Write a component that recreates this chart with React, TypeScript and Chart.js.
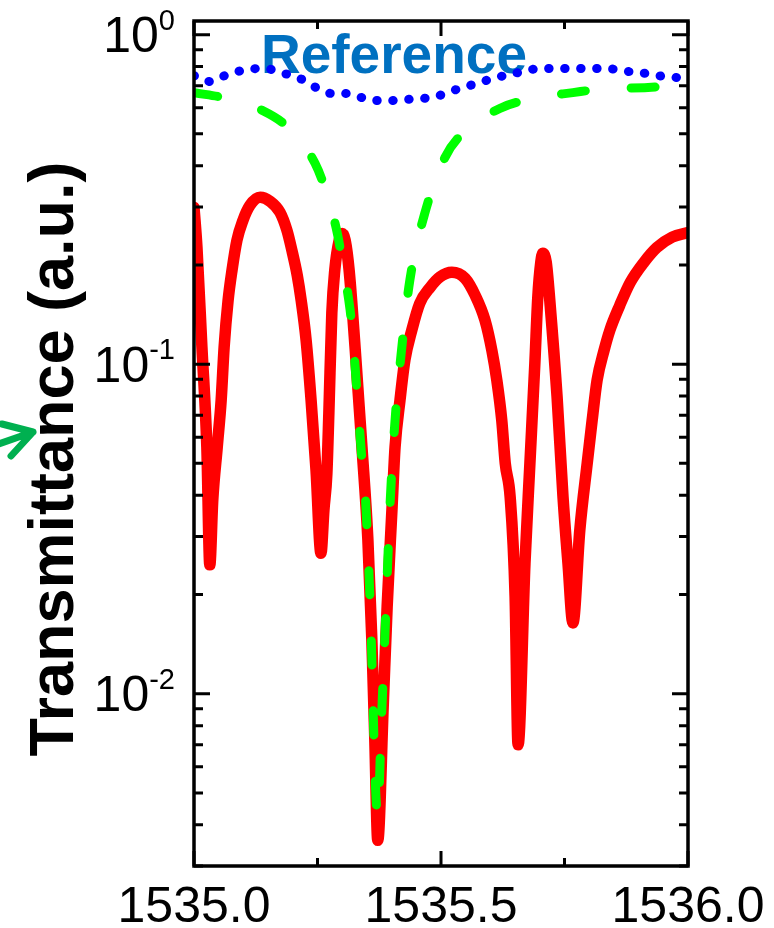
import React, { useEffect, useRef } from "react";
import { Chart, registerables } from "chart.js";

Chart.register(...registerables);

// Measured transmittance (red)
const measuredX = [
  1535.0, 1535.006, 1535.016, 1535.026, 1535.032,
  1535.038, 1535.047, 1535.055, 1535.061, 1535.069, 1535.077, 1535.087, 1535.099, 1535.113, 1535.134,
  1535.154, 1535.174, 1535.188, 1535.198, 1535.209, 1535.217, 1535.227, 1535.237, 1535.247, 1535.257,
  1535.263, 1535.269, 1535.273, 1535.279, 1535.285, 1535.294, 1535.3, 1535.306, 1535.314, 1535.326,
  1535.34, 1535.352, 1535.36, 1535.366, 1535.372,
  1535.383, 1535.391, 1535.401, 1535.407, 1535.417, 1535.427, 1535.441, 1535.457, 1535.478, 1535.498,
  1535.522, 1535.549, 1535.569, 1535.589, 1535.603, 1535.613, 1535.623, 1535.63, 1535.64, 1535.65,
  1535.656,
  1535.67, 1535.68, 1535.69, 1535.696, 1535.702, 1535.706, 1535.713, 1535.721, 1535.735, 1535.747,
  1535.757, 1535.767,
  1535.781, 1535.796, 1535.806, 1535.816, 1535.83, 1535.842, 1535.862, 1535.883, 1535.911, 1535.937,
  1535.968, 1536.0,
];
const measuredY = [
  0.299, 0.226, 0.1127, 0.056, 0.0246,
  0.0387, 0.056, 0.0778, 0.1127, 0.156, 0.193, 0.238, 0.273, 0.303, 0.321,
  0.312, 0.289, 0.255, 0.222, 0.186, 0.156, 0.118, 0.0778, 0.0477, 0.0267,
  0.0361, 0.0467, 0.0711, 0.143, 0.193, 0.238, 0.249, 0.238, 0.193, 0.1127,
  0.056, 0.0293, 0.0146, 0.00726, 0.00359,
  0.00914, 0.0184, 0.0369, 0.056, 0.0778, 0.103, 0.127, 0.153, 0.171, 0.184,
  0.19, 0.182, 0.162, 0.136, 0.11, 0.0894, 0.0676, 0.0501, 0.0395, 0.0197,
  0.007,
  0.0249, 0.0501, 0.1007, 0.16, 0.204, 0.217, 0.204, 0.151, 0.0794, 0.0395,
  0.0249, 0.0164,
  0.0314, 0.0501, 0.0676, 0.0894, 0.11, 0.127, 0.151, 0.177, 0.204, 0.226,
  0.243, 0.251,
];

// Fitted dip (green dashed)
const fitX = [
  1535.0, 1535.067, 1535.138, 1535.19, 1535.245, 1535.271, 1535.291, 1535.302, 1535.316, 1535.322,
  1535.34, 1535.346, 1535.352, 1535.358, 1535.362, 1535.366, 1535.372, 1535.379, 1535.385, 1535.391,
  1535.397, 1535.407, 1535.419, 1535.437, 1535.47, 1535.508, 1535.543, 1535.619, 1535.686, 1535.767,
  1535.836, 1535.919, 1536.0,
];
const fitY = [
  0.667, 0.64, 0.589, 0.523, 0.407, 0.321, 0.246, 0.197, 0.146, 0.118,
  0.0512, 0.0415, 0.0277, 0.0162, 0.0098, 0.00589, 0.00424, 0.00805, 0.0132, 0.0226,
  0.0379, 0.0676, 0.1064, 0.18, 0.297, 0.424, 0.501, 0.597, 0.64, 0.667,
  0.686, 0.691, 0.71,
];

// Reference (blue dotted)
const refX = [
  1535.0, 1535.032, 1535.067, 1535.097, 1535.13, 1535.168, 1535.184, 1535.219, 1535.247, 1535.279,
  1535.306, 1535.34, 1535.362, 1535.397, 1535.431, 1535.462, 1535.49, 1535.518, 1535.545, 1535.577,
  1535.605, 1535.636, 1535.666, 1535.698, 1535.727, 1535.755, 1535.791, 1535.828, 1535.858, 1535.893,
  1535.917, 1535.953, 1535.988, 1536.0,
];
const refY = [
  0.751, 0.721, 0.756, 0.778, 0.789, 0.778, 0.762, 0.731, 0.691, 0.663,
  0.663, 0.644, 0.631, 0.631, 0.636, 0.64, 0.649, 0.672, 0.691, 0.715,
  0.736, 0.756, 0.772, 0.789, 0.789, 0.789, 0.789, 0.789, 0.783, 0.767,
  0.762, 0.746, 0.741, 0.741,
];

const xMin = 1535.0;
const xMax = 1536.0;
const yMin = 0.003;
const yMax = 1.1;
const xMajorTicks = [1535.0, 1535.5, 1536.0];
const xTickLabels = ["1535.0", "1535.5", "1536.0"];
const xMinorTicks = [1535.25, 1535.75];
const yMajorTicks = [1, 0.1, 0.01];
const yTickExponents = ["0", "-1", "-2"];
const yDecades = [-3, -2, -1, 0];
const yTitle = "Transmittance (a.u.)";
const annotationText = "Reference";

const FONT = '"Liberation Sans", Arial, Helvetica, sans-serif';

const decorPlugin = {
  id: "decor",
  beforeDatasetsDraw(chart: any) {
    const ctx = chart.ctx as CanvasRenderingContext2D;
    ctx.save();
    ctx.fillStyle = "#0070C0";
    ctx.font = `bold 55px ${FONT}`;
    ctx.textAlign = "left";
    ctx.textBaseline = "alphabetic";
    ctx.fillText(annotationText, 261, 73);
    ctx.restore();
  },
  afterDatasetsDraw(chart: any) {
    const ctx = chart.ctx as CanvasRenderingContext2D;
    const { left, right, top, bottom } = chart.chartArea;
    const xs = chart.scales.x;
    const ys = chart.scales.y;
    ctx.save();
    ctx.strokeStyle = "#000";
    ctx.lineCap = "butt";
    ctx.lineWidth = 3;
    const yMaj = 16;
    const yMin_ = 9;
    for (const d of yDecades) {
      for (let m = 1; m <= 9; m++) {
        const v = m * Math.pow(10, d);
        if (v < yMin || v > yMax) continue;
        const py = ys.getPixelForValue(v);
        const len = m === 1 ? yMaj : yMin_;
        ctx.beginPath();
        ctx.moveTo(left, py);
        ctx.lineTo(left + len, py);
        ctx.moveTo(right, py);
        ctx.lineTo(right - len, py);
        ctx.stroke();
      }
    }
    const drawX = (v: number, len: number) => {
      const px = xs.getPixelForValue(v);
      ctx.beginPath();
      ctx.moveTo(px, bottom);
      ctx.lineTo(px, bottom - len);
      ctx.moveTo(px, top);
      ctx.lineTo(px, top + len);
      ctx.stroke();
    };
    xMajorTicks.forEach((v) => drawX(v, 15));
    xMinorTicks.forEach((v) => drawX(v, 8));
    ctx.lineWidth = 3.5;
    ctx.strokeRect(left, top, right - left, bottom - top);
    ctx.restore();
  },
  afterDraw(chart: any) {
    const ctx = chart.ctx as CanvasRenderingContext2D;
    const xs = chart.scales.x;
    const ys = chart.scales.y;
    ctx.save();
    ctx.fillStyle = "#000";
    ctx.font = `50px ${FONT}`;
    ctx.textAlign = "center";
    ctx.textBaseline = "alphabetic";
    xMajorTicks.forEach((v, i) => {
      ctx.fillText(xTickLabels[i], xs.getPixelForValue(v), 922);
    });
    yMajorTicks.forEach((v, i) => {
      const py = ys.getPixelForValue(v);
      ctx.font = `50px ${FONT}`;
      const wBase = ctx.measureText("10").width;
      ctx.font = `29px ${FONT}`;
      const wSup = ctx.measureText(yTickExponents[i]).width;
      const rightEdge = 175;
      const x0 = rightEdge - wBase - wSup;
      ctx.textAlign = "left";
      ctx.font = `50px ${FONT}`;
      ctx.fillText("10", x0, py + 17.5);
      ctx.font = `29px ${FONT}`;
      ctx.fillText(yTickExponents[i], x0 + wBase, py - 5);
    });
    ctx.save();
    ctx.translate(73, 459);
    ctx.rotate(-Math.PI / 2);
    ctx.font = `bold 63px ${FONT}`;
    ctx.textAlign = "center";
    ctx.textBaseline = "alphabetic";
    ctx.fillText(yTitle, 0, 0);
    ctx.restore();
    ctx.strokeStyle = "#00B050";
    ctx.lineWidth = 7;
    ctx.lineCap = "round";
    ctx.lineJoin = "round";
    ctx.beginPath();
    ctx.moveTo(2, 424);
    ctx.lineTo(33, 432);
    ctx.lineTo(11, 456);
    ctx.moveTo(33, 432);
    ctx.lineTo(-10, 447);
    ctx.stroke();
    ctx.restore();
  },
};

export default function App() {
  const canvasRef = useRef<HTMLCanvasElement | null>(null);

  useEffect(() => {
    document.body.style.margin = "0";
    const canvas = canvasRef.current;
    if (!canvas) return;
    const toPts = (xs: number[], ys: number[]) => xs.map((x, i) => ({ x, y: ys[i] }));
    const chart = new Chart(canvas, {
      type: "line",
      data: {
        datasets: [
          {
            label: "Reference",
            data: toPts(refX, refY),
            borderColor: "#0000FF",
            borderWidth: 9,
            borderDash: [0.5, 15.5],
            borderCapStyle: "round",
            pointRadius: 0,
            cubicInterpolationMode: "monotone",
            fill: false,
            clip: 0,
            order: 1,
          },
          {
            label: "Fit",
            data: toPts(fitX, fitY),
            borderColor: "#00FF00",
            borderWidth: 9,
            borderDash: [24, 46],
            borderCapStyle: "round",
            pointRadius: 0,
            cubicInterpolationMode: "monotone",
            fill: false,
            clip: 0,
            order: 2,
          },
          {
            label: "Measured",
            data: toPts(measuredX, measuredY),
            borderColor: "#FF0000",
            borderWidth: 11.5,
            borderJoinStyle: "round",
            borderCapStyle: "round",
            pointRadius: 0,
            cubicInterpolationMode: "monotone",
            fill: false,
            clip: 0,
            order: 3,
          },
        ],
      } as any,
      options: {
        responsive: false,
        animation: false,
        events: [],
        layout: { padding: { left: 194, right: 86, top: 21, bottom: 62 } },
        plugins: { legend: { display: false }, tooltip: { enabled: false } },
        scales: {
          x: { type: "linear", min: xMin, max: xMax, display: false },
          y: { type: "logarithmic", min: yMin, max: yMax, display: false },
        },
      } as any,
      plugins: [decorPlugin],
    });
    return () => chart.destroy();
  }, []);

  return (
    <div style={{ width: 774, height: 928, background: "#fff" }}>
      <canvas ref={canvasRef} width={774} height={928} style={{ display: "block" }} />
    </div>
  );
}
